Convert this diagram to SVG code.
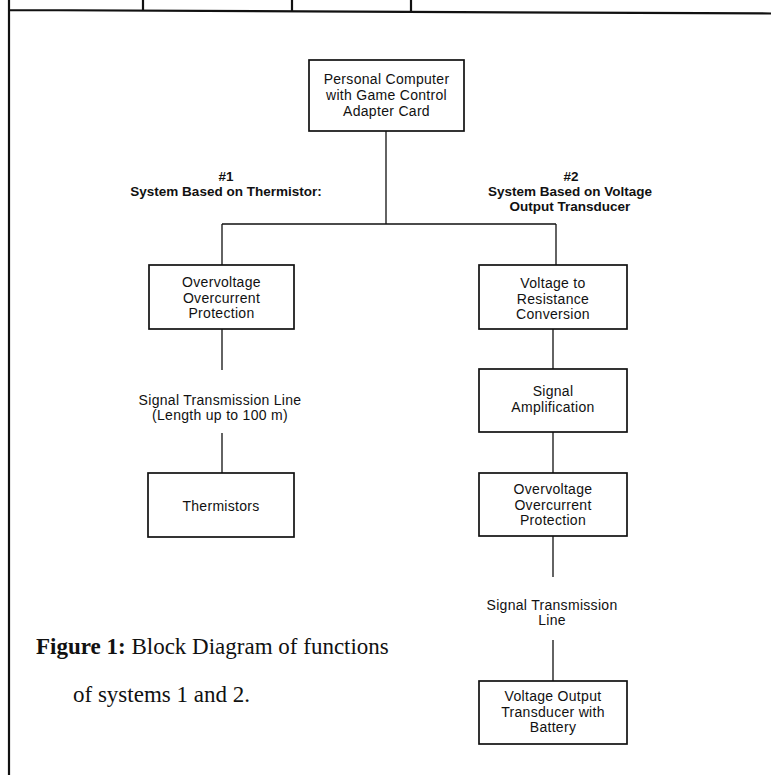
<svg xmlns="http://www.w3.org/2000/svg" width="771" height="775" viewBox="0 0 771 775">
<style>
.box{fill:#fff;stroke:#111;stroke-width:1.7}
.ln{stroke:#111;stroke-width:1.3;fill:none}
.frame{stroke:#111;stroke-width:2.2;fill:none}
.t{font-family:"Liberation Sans",Arial,sans-serif;font-size:14px;letter-spacing:0.3px;text-anchor:middle;fill:#111}
.h{font-family:"Liberation Sans",Arial,sans-serif;font-size:13.5px;font-weight:bold;text-anchor:middle;fill:#111}
.cap{font-family:"Liberation Serif","Times New Roman",serif;font-size:23px;fill:#111}
</style>
<rect width="771" height="775" fill="#fff"/>
<g id="frame">
<path class="frame" d="M9,0 V775 M9,10 L771,13.5"/>
<path class="frame" d="M143,0 V11 M292,0 V12 M411,0 V12"/>
</g>
<g id="connectors">
<path class="ln" d="M386,131 V224 M222,224 H556 M222,224 V265 M556,224 V265"/>
<path class="ln" d="M222,329 V370 M222,433 V473"/>
<path class="ln" d="M553,329 V369 M553,432 V473 M553,536 V577 M553,640 V681"/>
</g>
<g id="pc">
<rect class="box" x="309" y="60" width="155" height="71"/>
<text class="t" x="386.5" y="84">Personal Computer</text>
<text class="t" x="386.5" y="100">with Game Control</text>
<text class="t" x="386.5" y="116">Adapter Card</text>
</g>
<g id="heading1">
<text class="h" x="226" y="181">#1</text>
<text class="h" x="226" y="196">System Based on Thermistor:</text>
</g>
<g id="heading2">
<text class="h" x="571" y="181">#2</text>
<text class="h" x="570" y="196">System Based on Voltage</text>
<text class="h" x="570" y="211">Output Transducer</text>
</g>
<g id="protect1">
<rect class="box" x="149" y="265" width="145" height="64"/>
<text class="t" x="221.5" y="287">Overvoltage</text>
<text class="t" x="221.5" y="303">Overcurrent</text>
<text class="t" x="221.5" y="318">Protection</text>
</g>
<g id="line1">
<text class="t" x="220" y="405">Signal Transmission Line</text>
<text class="t" x="220" y="420">(Length up to 100 m)</text>
</g>
<g id="thermistors">
<rect class="box" x="148" y="473" width="146" height="64"/>
<text class="t" x="221" y="511">Thermistors</text>
</g>
<g id="v2r">
<rect class="box" x="479" y="265" width="148" height="64"/>
<text class="t" x="553" y="288">Voltage to</text>
<text class="t" x="553" y="304">Resistance</text>
<text class="t" x="553" y="319">Conversion</text>
</g>
<g id="amp">
<rect class="box" x="479" y="369" width="148" height="63"/>
<text class="t" x="553" y="396">Signal</text>
<text class="t" x="553" y="412">Amplification</text>
</g>
<g id="protect2">
<rect class="box" x="479" y="473" width="148" height="63"/>
<text class="t" x="553" y="494">Overvoltage</text>
<text class="t" x="553" y="510">Overcurrent</text>
<text class="t" x="553" y="525">Protection</text>
</g>
<g id="line2">
<text class="t" x="552" y="610">Signal Transmission</text>
<text class="t" x="552" y="625">Line</text>
</g>
<g id="transducer">
<rect class="box" x="479" y="681" width="148" height="63"/>
<text class="t" x="553" y="701">Voltage Output</text>
<text class="t" x="553" y="717">Transducer with</text>
<text class="t" x="553" y="732">Battery</text>
</g>
<g id="caption">
<text class="cap" x="36" y="654"><tspan font-weight="bold">Figure 1:</tspan> Block Diagram of functions</text>
<text class="cap" x="73" y="702">of systems 1 and 2.</text>
</g>
</svg>
